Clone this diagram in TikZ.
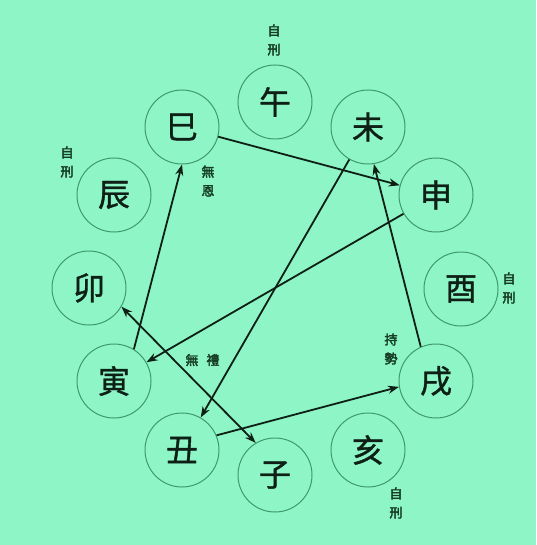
\documentclass[tikz,border=0pt]{standalone}
\usepackage{fontspec}
\newfontfamily\cjk{Noto Sans CJK TC}[FakeBold=1.2]
\newfontfamily\cjkb{Noto Sans CJK TC}[FakeBold=2.8]
\usetikzlibrary{arrows.meta}
\definecolor{bg}{HTML}{8EF5C6}
\definecolor{ring}{HTML}{3E9A6C}
\definecolor{ink}{HTML}{0E2016}
\definecolor{lbl}{HTML}{163E24}
\begin{document}
\begin{tikzpicture}[x=1pt,y=-1pt,
  branch/.style={circle,draw=ring,line width=1pt,minimum size=74pt,inner sep=0pt,
    font=\cjk\fontsize{32}{32}\selectfont,text=ink},
  note/.style={font=\cjkb\fontsize{13}{19}\selectfont,text=lbl,align=center,inner sep=0pt},
  link/.style={draw=ink,line width=1.8pt,-{Stealth[length=11pt,width=8pt]}}]
\fill[bg] (0,0) rectangle (536,545);
\useasboundingbox (0,0) rectangle (536,545);
\node[branch] (wu)   at (275,102) {午};
\node[branch] (wei)  at (368,127) {未};
\node[branch] (shen) at (436,195) {申};
\node[branch] (you)  at (461,289) {酉};
\node[branch] (xu)   at (436,381) {戌};
\node[branch] (hai)  at (368,450) {亥};
\node[branch] (zi)   at (275,475) {子};
\node[branch] (chou) at (182,450) {丑};
\node[branch] (yin)  at (114,381) {寅};
\node[branch] (mao)  at (89,288)  {卯};
\node[branch] (chen) at (114,195) {辰};
\node[branch] (si)   at (182,127) {巳};
\node[note] (n1) at (274,40)  {自\\刑};
\node[note] (n2) at (67,162)  {自\\刑};
\node[note] (n3) at (208,181) {無\\恩};
\node[note] (n4) at (509,288) {自\\刑};
\node[note] (n5) at (391,349) {持\\勢};
\node[note] (n6) at (396,503) {自\\刑};
\node[note] (n7) at (192,360) {無};
\node[note] (n8) at (213,360) {禮};
\draw[link] (si) -- (shen);
\draw[link] (shen) -- (yin);
\draw[link] (yin.58) -- (si.270);
\draw[link] (wei) -- (chou);
\draw[link] (xu.114) -- (wei.279);
\draw[link] (chou.23) -- (xu.189);
\draw[link,{Stealth[length=11pt,width=8pt]}-{Stealth[length=11pt,width=8pt]}] (mao.-30) -- (zi.121);
\end{tikzpicture}
\end{document}
